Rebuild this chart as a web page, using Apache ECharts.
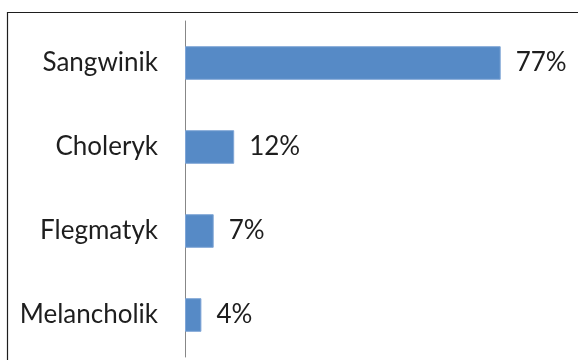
<!DOCTYPE html>
<html>
<head>
<meta charset="utf-8">
<script src="https://cdn.jsdelivr.net/npm/echarts@6/dist/echarts.min.js"></script>
<style>
html,body{margin:0;padding:0;background:#fff;}
#chart{width:578px;height:360px;}
</style>
</head>
<body>
<div id="chart"></div>
<script>
const categories = ['Sangwinik', 'Choleryk', 'Flegmatyk', 'Melancholik'];
const values = [77, 12, 7, 4];

const chart = echarts.init(document.getElementById('chart'), null, {renderer: 'canvas'});
chart.setOption({
  animation: false,
  backgroundColor: '#ffffff',
  textStyle: {fontFamily: 'Lato'},
  graphic: [{
    type: 'rect',
    shape: {x: 7.5, y: 12.5, width: 700, height: 500},
    style: {fill: 'none', stroke: '#1e1e1e', lineWidth: 1.2},
    silent: true
  }],
  grid: {left: 185, right: 24, top: 21, bottom: 3, containLabel: false},
  xAxis: {
    type: 'value', min: 0, max: 90,
    show: false
  },
  yAxis: {
    type: 'category',
    data: categories,
    inverse: true,
    axisLine: {show: true, lineStyle: {color: '#878787', width: 1}},
    axisTick: {show: false},
    axisLabel: {color: '#1e1e1e', fontSize: 26, fontFamily: 'Lato', margin: 27}
  },
  series: [{
    type: 'bar',
    data: values,
    barCategoryGap: '60%',
    itemStyle: {color: '#568ac6', borderColor: '#7fa5d6', borderWidth: 1},
    label: {
      show: true, position: 'right', distance: 15,
      formatter: p => p.value + '%',
      color: '#1e1e1e', fontSize: 26, fontFamily: 'Lato'
    }
  }]
});
</script>
</body>
</html>
